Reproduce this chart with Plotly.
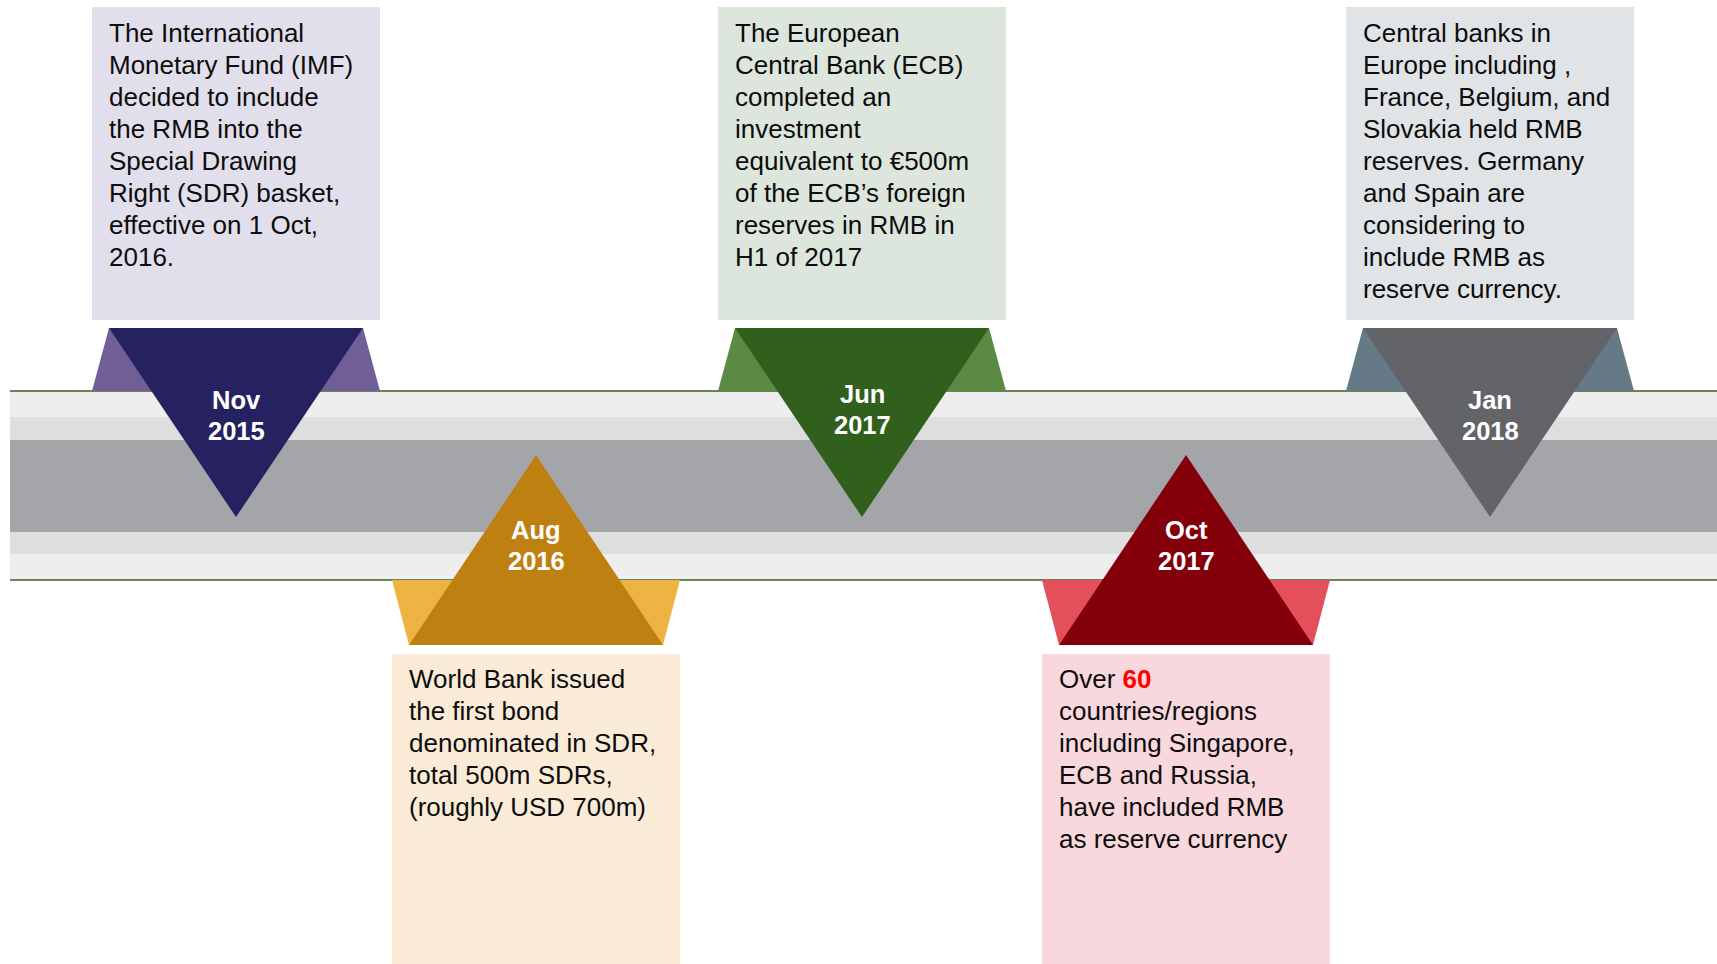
import plotly.graph_objects as go

# Timeline data
months = ["Nov", "Aug", "Jun", "Oct", "Jan"]
years = ["2015", "2016", "2017", "2017", "2018"]
sides = ["above", "below", "above", "below", "above"]
descriptions = [
    ["The International", "Monetary Fund (IMF)", "decided to include", "the RMB into the",
     "Special Drawing", "Right (SDR) basket,", "effective on 1 Oct,", "2016."],
    ["World Bank issued", "the first bond", "denominated in SDR,", "total 500m SDRs,",
     "(roughly USD 700m)"],
    ["The European", "Central Bank (ECB)", "completed an", "investment",
     "equivalent to €500m", "of the ECB’s foreign", "reserves in RMB in", "H1 of 2017"],
    ["Over <b><span style='color:#FF0000'>60</span></b>", "countries/regions",
     "including Singapore,", "ECB and Russia,", "have included RMB", "as reserve currency"],
    ["Central banks in", "Europe including ,", "France, Belgium, and", "Slovakia held RMB",
     "reserves. Germany", "and Spain are", "considering to", "include RMB as",
     "reserve currency."],
]

# Styling / layout constants
box_colors = ["#E1DFEB", "#FAEBD7", "#DCE6DC", "#F8D8DC", "#E0E4E7"]
wing_colors = ["#705F96", "#EDB443", "#5A8A44", "#E4505A", "#657987"]
tri_colors = ["#262262", "#BF8012", "#31601D", "#83000B", "#636468"]
box_left = [92, 392, 718, 1042, 1346]
label_top = [400, 530, 394, 530, 400]
box_w = 288
inset = 17
line_gap = 32

W, H = 1717, 964
FONT = "Arial, Liberation Sans, sans-serif"

fig = go.Figure()
shapes = []

# timeline band
bands = [(391, 417, "#EEEEEE"), (417, 440, "#DEDEDE"), (440, 532, "#A4A5A8"),
         (532, 554, "#DEDEDE"), (554, 580, "#EEEEEE")]
for y0, y1, c in bands:
    shapes.append(dict(type="rect", x0=10, x1=W, y0=y0, y1=y1, fillcolor=c,
                       line=dict(width=0), layer="below"))
for yl in (391, 580):
    shapes.append(dict(type="line", x0=10, x1=W, y0=yl, y1=yl,
                       line=dict(color="#3F5B2A", width=1.5), layer="below"))

annotations = []
for i in range(len(months)):
    x0 = box_left[i]
    x1 = x0 + box_w
    xc = (x0 + x1) / 2
    if sides[i] == "above":
        box_y = (7, 320)
        wing_x = [x0 + inset, x1 - inset, x1, x0, x0 + inset]
        wing_y = [328, 328, 391, 391, 328]
        tri_x = [x0 + inset, x1 - inset, xc, x0 + inset]
        tri_y = [328, 328, 517, 328]
        text_y = 33
    else:
        box_y = (654, H)
        wing_x = [x0, x1, x1 - inset, x0 + inset, x0]
        wing_y = [580, 580, 645, 645, 580]
        tri_x = [x0 + inset, x1 - inset, xc, x0 + inset]
        tri_y = [645, 645, 455, 645]
        text_y = 679

    shapes.append(dict(type="rect", x0=x0, x1=x1, y0=box_y[0], y1=box_y[1],
                       fillcolor=box_colors[i], line=dict(width=0), layer="below"))

    fig.add_trace(go.Scatter(x=wing_x, y=wing_y, fill="toself", mode="lines",
                             fillcolor=wing_colors[i], line=dict(width=0),
                             hoverinfo="skip", showlegend=False))
    fig.add_trace(go.Scatter(x=tri_x, y=tri_y, fill="toself", mode="lines",
                             fillcolor=tri_colors[i], line=dict(width=0),
                             hoverinfo="skip", showlegend=False))

    for k, part in enumerate([months[i], years[i]]):
        annotations.append(dict(x=xc, y=label_top[i] + 31 * k, xref="x", yref="y",
                                text="<b>%s</b>" % part, showarrow=False,
                                xanchor="center", yanchor="middle",
                                font=dict(family=FONT, size=25.5, color="white")))
    for k, line in enumerate(descriptions[i]):
        annotations.append(dict(x=x0 + inset - 2, y=text_y + line_gap * k, xref="x", yref="y",
                                text=line, showarrow=False, align="left",
                                xanchor="left", yanchor="middle",
                                font=dict(family=FONT, size=26, color="#0D0D0D")))

fig.update_layout(
    width=W, height=H,
    margin=dict(l=0, r=0, t=0, b=0),
    paper_bgcolor="white", plot_bgcolor="white",
    xaxis=dict(range=[0, W], visible=False, fixedrange=True),
    yaxis=dict(range=[H, 0], visible=False, fixedrange=True),
    shapes=shapes, annotations=annotations,
)

fig.write_html("out.html", config={"displayModeBar": False},
               post_script="document.body.style.margin='0';")
